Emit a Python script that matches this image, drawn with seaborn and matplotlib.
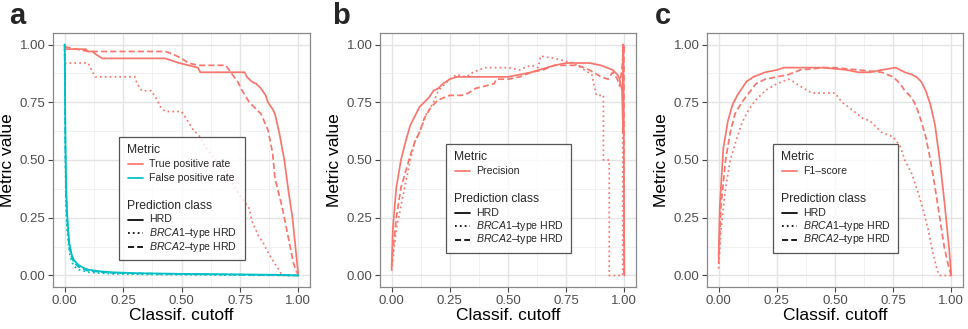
import pandas as pd
import seaborn as sns
import matplotlib.pyplot as plt
from matplotlib.lines import Line2D
from matplotlib.patches import Rectangle

# ---------------- panel a : true / false positive rate ----------------
cut_tpr_hrd = [0.0, 0.09, 0.10, 0.12, 0.13, 0.16, 0.43, 0.46, 0.49, 0.53, 0.57, 0.58, 0.77, 0.78,
               0.80, 0.82, 0.84, 0.86, 0.87, 0.89, 0.90, 0.92, 0.94, 0.96, 0.975, 0.99, 1.0]
tpr_hrd = [0.98, 0.98, 0.97, 0.97, 0.96, 0.94, 0.94, 0.93, 0.92, 0.91, 0.90, 0.88, 0.88, 0.86,
           0.84, 0.83, 0.81, 0.78, 0.75, 0.72, 0.70, 0.61, 0.50, 0.35, 0.25, 0.10, 0.0]

cut_tpr_brca1 = [0.0, 0.10, 0.11, 0.13, 0.30, 0.31, 0.33, 0.37, 0.39, 0.41, 0.43, 0.50, 0.52, 0.55,
                 0.58, 0.60, 0.63, 0.66, 0.70, 0.73, 0.76, 0.79, 0.80, 0.83, 0.85, 0.87, 0.90,
                 0.92, 0.93, 1.0]
tpr_brca1 = [0.92, 0.92, 0.90, 0.86, 0.86, 0.83, 0.80, 0.80, 0.77, 0.73, 0.71, 0.71, 0.68, 0.63,
             0.60, 0.56, 0.52, 0.48, 0.43, 0.38, 0.33, 0.29, 0.24, 0.17, 0.14, 0.10, 0.05,
             0.02, 0.0, 0.0]

cut_tpr_brca2 = [0.0, 0.05, 0.10, 0.43, 0.46, 0.50, 0.53, 0.57, 0.69, 0.71, 0.74, 0.76, 0.79,
                 0.84, 0.87, 0.89, 0.90, 0.93, 0.96, 0.98, 1.0]
tpr_brca2 = [0.99, 0.98, 0.97, 0.97, 0.96, 0.94, 0.92, 0.91, 0.91, 0.88, 0.84, 0.80, 0.75,
             0.70, 0.63, 0.53, 0.42, 0.30, 0.15, 0.05, 0.0]

cut_fpr_hrd = [0.0, 0.003, 0.006, 0.01, 0.015, 0.02, 0.03, 0.04, 0.06, 0.08, 0.10, 0.15, 0.20,
               0.30, 0.50, 0.70, 0.90, 1.0]
fpr_hrd = [1.0, 0.60, 0.40, 0.28, 0.20, 0.14, 0.09, 0.065, 0.045, 0.033, 0.025, 0.018, 0.014,
           0.010, 0.007, 0.005, 0.003, 0.0]

cut_fpr_brca1 = [0.0, 0.003, 0.006, 0.01, 0.02, 0.03, 0.04, 0.06, 0.10, 0.20, 0.40, 0.70, 1.0]
fpr_brca1 = [1.0, 0.50, 0.30, 0.20, 0.10, 0.06, 0.04, 0.025, 0.014, 0.007, 0.004, 0.002, 0.0]

cut_fpr_brca2 = [0.0, 0.003, 0.006, 0.01, 0.02, 0.03, 0.04, 0.06, 0.10, 0.20, 0.40, 0.70, 1.0]
fpr_brca2 = [1.0, 0.55, 0.35, 0.25, 0.12, 0.08, 0.055, 0.037, 0.02, 0.011, 0.007, 0.004, 0.0]

# ---------------- panel b : precision ----------------
cut_prec_hrd = [0.0, 0.005, 0.02, 0.04, 0.06, 0.08, 0.10, 0.12, 0.14, 0.16, 0.18, 0.20, 0.22,
                0.25, 0.28, 0.50, 0.60, 0.70, 0.75, 0.85, 0.90, 0.95, 0.97, 0.98, 0.99, 0.995,
                0.995, 1.0]
prec_hrd = [0.03, 0.20, 0.38, 0.50, 0.58, 0.65, 0.69, 0.73, 0.75, 0.77, 0.80, 0.81, 0.83,
            0.85, 0.86, 0.86, 0.88, 0.91, 0.92, 0.92, 0.91, 0.89, 0.87, 0.85, 0.80, 0.62,
            1.0, 0.0]

cut_prec_brca1 = [0.0, 0.02, 0.05, 0.08, 0.10, 0.12, 0.15, 0.18, 0.20, 0.25, 0.28, 0.32, 0.35,
                  0.40, 0.50, 0.55, 0.57, 0.60, 0.63, 0.64, 0.70, 0.78, 0.86, 0.88, 0.91, 0.91,
                  0.935, 0.935, 0.993, 0.993]
prec_brca1 = [0.02, 0.20, 0.35, 0.50, 0.58, 0.62, 0.70, 0.75, 0.80, 0.85, 0.87, 0.86, 0.88,
              0.90, 0.90, 0.89, 0.90, 0.91, 0.90, 0.95, 0.94, 0.92, 0.87, 0.78, 0.78, 0.50,
              0.50, 0.0, 0.0, 1.0]

cut_prec_brca2 = [0.0, 0.02, 0.04, 0.06, 0.08, 0.10, 0.12, 0.14, 0.17, 0.20, 0.25, 0.30, 0.33,
                  0.36, 0.40, 0.44, 0.45, 0.50, 0.55, 0.60, 0.65, 0.70, 0.80, 0.85, 0.90, 0.93,
                  0.95, 0.97, 0.98, 0.99, 0.998, 0.998]
prec_brca2 = [0.05, 0.25, 0.38, 0.45, 0.52, 0.58, 0.62, 0.68, 0.73, 0.76, 0.78, 0.78, 0.79,
              0.81, 0.82, 0.83, 0.85, 0.85, 0.86, 0.88, 0.89, 0.91, 0.91, 0.89, 0.86, 0.85,
              0.88, 0.85, 0.82, 0.90, 1.0, 0.0]

# ---------------- panel c : F1-score ----------------
cut_f1_hrd = [0.0, 0.005, 0.02, 0.04, 0.06, 0.08, 0.10, 0.12, 0.15, 0.20, 0.25, 0.28, 0.45,
              0.55, 0.60, 0.65, 0.70, 0.76, 0.78, 0.80, 0.83, 0.85, 0.87, 0.89, 0.91, 0.93,
              0.95, 0.97, 0.99, 1.0]
f1_hrd = [0.08, 0.30, 0.55, 0.67, 0.74, 0.78, 0.81, 0.84, 0.86, 0.88, 0.89, 0.90, 0.90,
          0.89, 0.88, 0.88, 0.89, 0.90, 0.89, 0.88, 0.87, 0.86, 0.84, 0.80, 0.74, 0.65,
          0.50, 0.32, 0.12, 0.0]

cut_f1_brca1 = [0.0, 0.01, 0.03, 0.05, 0.08, 0.10, 0.13, 0.16, 0.20, 0.25, 0.30, 0.32, 0.35,
                0.40, 0.50, 0.53, 0.57, 0.62, 0.65, 0.68, 0.70, 0.75, 0.78, 0.80, 0.83, 0.86,
                0.88, 0.90, 0.92, 0.94, 0.95, 1.0]
f1_brca1 = [0.03, 0.20, 0.38, 0.50, 0.60, 0.66, 0.72, 0.76, 0.80, 0.83, 0.85, 0.84, 0.82,
            0.79, 0.79, 0.75, 0.72, 0.68, 0.67, 0.64, 0.62, 0.60, 0.56, 0.50, 0.44, 0.35,
            0.28, 0.20, 0.10, 0.02, 0.0, 0.0]

cut_f1_brca2 = [0.0, 0.01, 0.03, 0.05, 0.07, 0.10, 0.13, 0.16, 0.20, 0.25, 0.30, 0.35, 0.45,
                0.50, 0.60, 0.70, 0.75, 0.78, 0.80, 0.83, 0.85, 0.87, 0.89, 0.91, 0.93, 0.95,
                0.97, 0.99, 1.0]
f1_brca2 = [0.05, 0.30, 0.50, 0.62, 0.70, 0.75, 0.79, 0.83, 0.85, 0.86, 0.87, 0.89, 0.90,
            0.90, 0.89, 0.88, 0.86, 0.83, 0.80, 0.77, 0.73, 0.67, 0.60, 0.50, 0.38, 0.25,
            0.12, 0.03, 0.0]

classes = ["HRD", "BRCA1", "BRCA2"]
class_labels = ["HRD", r"$\mathit{BRCA1}$–type HRD", r"$\mathit{BRCA2}$–type HRD"]

RED = "#F8766D"
CYAN = "#00BFC4"
dash_map = {"HRD": "", "BRCA1": (1, 1.8), "BRCA2": (3.5, 1.8)}
LW = 1.25


def make_df(series):
    frames = []
    for metric, cls, xs, ys in series:
        frames.append(pd.DataFrame({"cutoff": xs, "value": ys, "metric": metric, "cls": cls}))
    return pd.concat(frames, ignore_index=True)


df_a = make_df([
    ("True positive rate", "HRD", cut_tpr_hrd, tpr_hrd),
    ("True positive rate", "BRCA1", cut_tpr_brca1, tpr_brca1),
    ("True positive rate", "BRCA2", cut_tpr_brca2, tpr_brca2),
    ("False positive rate", "HRD", cut_fpr_hrd, fpr_hrd),
    ("False positive rate", "BRCA1", cut_fpr_brca1, fpr_brca1),
    ("False positive rate", "BRCA2", cut_fpr_brca2, fpr_brca2),
])
df_b = make_df([
    ("Precision", "HRD", cut_prec_hrd, prec_hrd),
    ("Precision", "BRCA1", cut_prec_brca1, prec_brca1),
    ("Precision", "BRCA2", cut_prec_brca2, prec_brca2),
])
df_c = make_df([
    ("F1–score", "HRD", cut_f1_hrd, f1_hrd),
    ("F1–score", "BRCA1", cut_f1_brca1, f1_brca1),
    ("F1–score", "BRCA2", cut_f1_brca2, f1_brca2),
])

sns.set_theme(style="white")
plt.rcParams["font.family"] = ["Liberation Sans", "DejaVu Sans"]
plt.rcParams["mathtext.fontset"] = "custom"
plt.rcParams["mathtext.rm"] = "Liberation Sans"
plt.rcParams["mathtext.it"] = "Liberation Sans:italic"

W, H = 968, 329
fig = plt.figure(figsize=(W / 100, H / 100), dpi=100)

# axes boxes in pixels (left, right) ; shared top / bottom
boxes = [(53, 310), (380, 636), (707, 963)]
top, bottom = 33, 287
axes = []
for l, r in boxes:
    axes.append(fig.add_axes([l / W, 1 - bottom / H, (r - l) / W, (bottom - top) / H]))

panels = [
    (df_a, {"True positive rate": RED, "False positive rate": CYAN}),
    (df_b, {"Precision": RED}),
    (df_c, {"F1–score": RED}),
]

for ax, (df, pal) in zip(axes, panels):
    sns.lineplot(data=df, x="cutoff", y="value", hue="metric", style="cls",
                 hue_order=list(pal.keys()), style_order=classes,
                 palette=pal, dashes=dash_map, estimator=None, sort=False,
                 legend=False, linewidth=LW, ax=ax)
    ax.set_xlim(-0.05, 1.05)
    ax.set_ylim(-0.05, 1.05)
    ticks = [0, 0.25, 0.5, 0.75, 1.0]
    ax.set_xticks(ticks)
    ax.set_yticks(ticks)
    ax.set_xticklabels(["0.00", "0.25", "0.50", "0.75", "1.00"])
    ax.set_yticklabels(["0.00", "0.25", "0.50", "0.75", "1.00"])
    ax.set_xticks([0.125, 0.375, 0.625, 0.875], minor=True)
    ax.set_yticks([0.125, 0.375, 0.625, 0.875], minor=True)
    ax.grid(which="major", color="#E4E4E4", linewidth=1.0)
    ax.grid(which="minor", color="#EFEFEF", linewidth=0.6)
    ax.set_axisbelow(True)
    for sp in ax.spines.values():
        sp.set_color("#888888")
        sp.set_linewidth(0.9)
    ax.tick_params(which="major", direction="out", length=3.5, width=0.8, color="#444444",
                   labelcolor="#4D4D4D", labelsize=9.5, pad=2, bottom=True, left=True)
    ax.tick_params(which="minor", length=0)
    ax.set_xlabel("Classif. cutoff", fontsize=12.5, color="black", labelpad=1)
    ax.set_ylabel("Metric value", fontsize=12.5, color="black", labelpad=3)


def draw_legend(left, top_px, width, metrics):
    def fx(x):
        return x / W

    def fy(y):
        return 1 - y / H

    y = top_px + 13
    fig.text(fx(left + 8), fy(y), "Metric", fontsize=8.7, va="center", ha="left", zorder=5)
    for name, col in metrics:
        y += 14
        fig.add_artist(Line2D([fx(left + 9), fx(left + 24)], [fy(y), fy(y)],
                              transform=fig.transFigure, color=col, lw=LW, zorder=5))
        fig.text(fx(left + 30), fy(y), name, fontsize=7.6, va="center", ha="left", zorder=5)
    y += 28
    fig.text(fx(left + 8), fy(y), "Prediction class", fontsize=8.7, va="center", ha="left",
             zorder=5)
    for cls, lab in zip(classes, class_labels):
        y += 13.5
        ln = Line2D([fx(left + 9), fx(left + 24)], [fy(y), fy(y)],
                    transform=fig.transFigure, color="black", lw=LW, zorder=5)
        if dash_map[cls]:
            ln.set_dashes(dash_map[cls])
        fig.add_artist(ln)
        fig.text(fx(left + 30), fy(y), lab, fontsize=7.6, va="center", ha="left", zorder=5)
    y += 13.5
    fig.add_artist(Rectangle((fx(left), fy(y)), width / W, (y - top_px) / H,
                             transform=fig.transFigure, facecolor=(1, 1, 1, 0.78),
                             edgecolor="#555555", lw=0.9, zorder=4))


draw_legend(119, 137, 126, [("True positive rate", RED), ("False positive rate", CYAN)])
draw_legend(446, 144, 125, [("Precision", RED)])
draw_legend(773, 144, 125, [("F1–score", RED)])

for x, lab in [(9, "a"), (332, "b"), (655, "c")]:
    fig.text(x / W, 1 - 2 / H, lab, fontsize=21, fontweight="bold", va="top", ha="left")

fig.savefig("out.png", dpi=100)
